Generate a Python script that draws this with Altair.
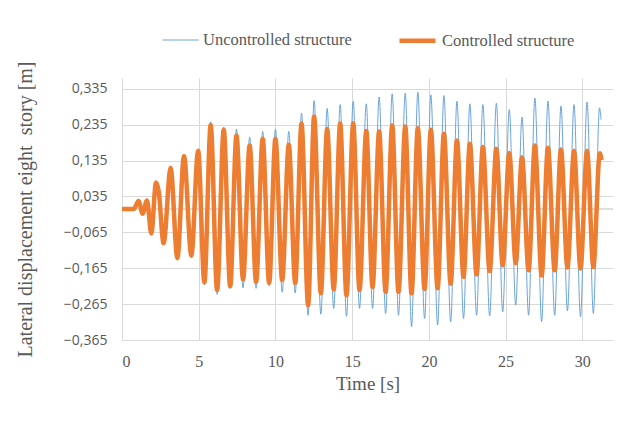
import altair as alt
import pandas as pd

# Controlled structure: time [s] of extrema and displacement [m]
t_ctrl = [0.0, 0.76, 1.08, 1.34, 1.63, 1.91, 2.22, 2.39, 2.71, 3.17, 3.61, 4.04, 4.52, 4.96,
          5.37, 5.78, 6.20, 6.63, 7.05, 7.46, 7.89, 8.32, 8.74, 9.17, 9.59, 10.00, 10.44, 10.87,
          11.29, 11.70, 12.13, 12.52, 12.96, 13.37, 13.80, 14.22, 14.63, 15.07, 15.48, 15.92,
          16.33, 16.76, 17.18, 17.61, 18.02, 18.46, 18.87, 19.28, 19.72, 20.13, 20.57, 20.98,
          21.42, 21.83, 22.26, 22.67, 23.11, 23.52, 23.96, 24.40, 24.81, 25.24, 25.66, 26.07,
          26.50, 26.91, 27.35, 27.76, 28.20, 28.61, 29.03, 29.46, 29.88, 30.31, 30.72, 31.14, 31.25]
y_ctrl = [0.0, 0.0, 0.022, -0.013, 0.024, -0.068, 0.074, 0.05, -0.095, 0.114, -0.137, 0.148, -0.130, 0.162,
          -0.204, 0.234, -0.226, 0.221, -0.215, 0.205, -0.196, 0.177, -0.203, 0.196, -0.206, 0.196, -0.198, 0.179,
          -0.206, 0.238, -0.268, 0.258, -0.235, 0.223, -0.224, 0.238, -0.240, 0.238, -0.226, 0.217,
          -0.217, 0.216, -0.231, 0.233, -0.231, 0.230, -0.235, 0.225, -0.223, 0.221, -0.221, 0.210,
          -0.208, 0.191, -0.189, 0.182, -0.182, 0.173, -0.173, 0.168, -0.157, 0.156, -0.151, 0.144,
          -0.171, 0.177, -0.185, 0.171, -0.171, 0.166, -0.163, 0.162, -0.166, 0.162, -0.162, 0.155, 0.136]

# Uncontrolled structure
t_unc = [0.0, 0.76, 1.08, 1.34, 1.63, 1.91, 2.22, 2.39, 2.71, 3.17, 3.61, 4.04, 4.52, 4.96,
         5.37, 5.78, 6.20, 6.63, 7.05, 7.46, 7.89, 8.32, 8.74, 9.17, 9.59, 10.00, 10.44, 10.87,
         11.29, 11.70, 12.13, 12.52, 12.96, 13.37, 13.80, 14.22, 14.63, 15.07, 15.48, 15.92,
         16.33, 16.76, 17.18, 17.61, 18.02, 18.46, 18.87, 19.28, 19.72, 20.13, 20.57, 20.98,
         21.42, 21.83, 22.26, 22.67, 23.11, 23.52, 23.96, 24.40, 24.81, 25.24, 25.66, 26.07,
         26.50, 26.91, 27.35, 27.76, 28.20, 28.61, 29.03, 29.46, 29.88, 30.31, 30.72, 31.12, 31.22]
y_unc = [0.0, 0.0, 0.022, -0.013, 0.024, -0.068, 0.074, 0.05, -0.095, 0.114, -0.137, 0.148, -0.130, 0.162,
         -0.212, 0.243, -0.238, 0.228, -0.221, 0.223, -0.220, 0.200, -0.221, 0.216, -0.214, 0.222, -0.232, 0.216,
         -0.234, 0.267, -0.296, 0.302, -0.293, 0.280, -0.277, 0.291, -0.299, 0.300, -0.277, 0.293,
         -0.277, 0.312, -0.291, 0.321, -0.296, 0.323, -0.328, 0.325, -0.305, 0.318, -0.323, 0.316,
         -0.314, 0.300, -0.305, 0.293, -0.296, 0.291, -0.298, 0.295, -0.287, 0.277, -0.268, 0.256,
         -0.296, 0.309, -0.314, 0.301, -0.296, 0.287, -0.284, 0.291, -0.300, 0.298, -0.291, 0.282, 0.249]

series_names = ["Uncontrolled structure", "Controlled structure"]
series_colors = ["#5B9BD5", "#ED7D31"]
series_widths = [0.9, 4.5]

x_ticks = [0, 5, 10, 15, 20, 25, 30]
y_ticks = [-0.365, -0.265, -0.165, -0.065, 0.035, 0.135, 0.235, 0.335]

df = pd.concat([
    pd.DataFrame({"t": t_unc, "y": y_unc, "series": series_names[0], "ord": range(len(t_unc))}),
    pd.DataFrame({"t": t_ctrl, "y": y_ctrl, "series": series_names[1], "ord": range(len(t_ctrl))}),
])

serif = "Liberation Serif"
sans = "Open Sans"
grey = "#595959"
W, H = 491, 262

x_enc = alt.X("t:Q", scale=alt.Scale(domain=[0, 32], nice=False, zero=False),
              axis=alt.Axis(values=x_ticks, tickCount=20, title="Time [s]", grid=True, gridColor="#d9d9d9",
                            domain=False, ticks=False, labelFont=serif, labelFontSize=16,
                            labelColor=grey, labelPadding=13, titleFont=serif, titleFontSize=19,
                            titleFontWeight="normal", titleColor=grey, titlePadding=5))
y_enc = alt.Y("y:Q", scale=alt.Scale(domain=[-0.365, 0.365], nice=False, zero=False),
              axis=alt.Axis(values=y_ticks, tickCount=20, title="Lateral displacement eight\u00a0 story [m]",
                            labelExpr="replace(format(datum.value, '.3f'), '.', ',')",
                            labelOverlap=False,
                            grid=True, gridColor="#d9d9d9", domain=False, ticks=False,
                            labelFont=sans, labelFontSize=14, labelColor=grey, labelPadding=15,
                            titleFont=serif, titleFontSize=20, titleFontWeight="normal",
                            titleColor=grey, titlePadding=28))
color_enc = alt.Color("series:N", scale=alt.Scale(domain=series_names, range=series_colors),
                      legend=alt.Legend(title=None, orient="none", direction="horizontal",
                                        legendX=40, legendY=-58, symbolType="stroke",
                                        symbolSize=1300, labelFont=serif, labelFontSize=16.5,
                                        labelColor=grey, columnPadding=38, labelOffset=4))
sw_enc = alt.StrokeWidth("series:N", scale=alt.Scale(domain=series_names, range=series_widths),
                         legend=None)

base = alt.Chart(df).mark_line(interpolate="monotone").encode(
    x=x_enc, y=y_enc, color=color_enc, strokeWidth=sw_enc, order="ord:Q")

unc = base.transform_filter(alt.datum.series == series_names[0])
ctrl = base.transform_filter(alt.datum.series == series_names[1])

zero_rule = alt.Chart(pd.DataFrame({"y0": [0.0]})).mark_rule(color="#bfbfbf", strokeWidth=1).encode(
    y="y0:Q")

frame = alt.Chart(pd.DataFrame({"k": [0]})).mark_rect(
    fill=None, stroke="#d9d9d9", strokeWidth=1.5, clip=False).encode(
    x=alt.value(-117), x2=alt.value(W + 30), y=alt.value(-71.5), y2=alt.value(H + 90))

chart = alt.layer(frame, zero_rule, unc, ctrl).properties(
    width=W, height=H,
    autosize=alt.AutoSizeParams(type="none"),
    padding={"left": 114, "top": 70, "right": 15, "bottom": 73},
).configure_view(stroke=None).configure_legend(symbolStrokeWidth=3)

chart.save("out.html", embed_options={"renderer": "svg", "actions": False})
